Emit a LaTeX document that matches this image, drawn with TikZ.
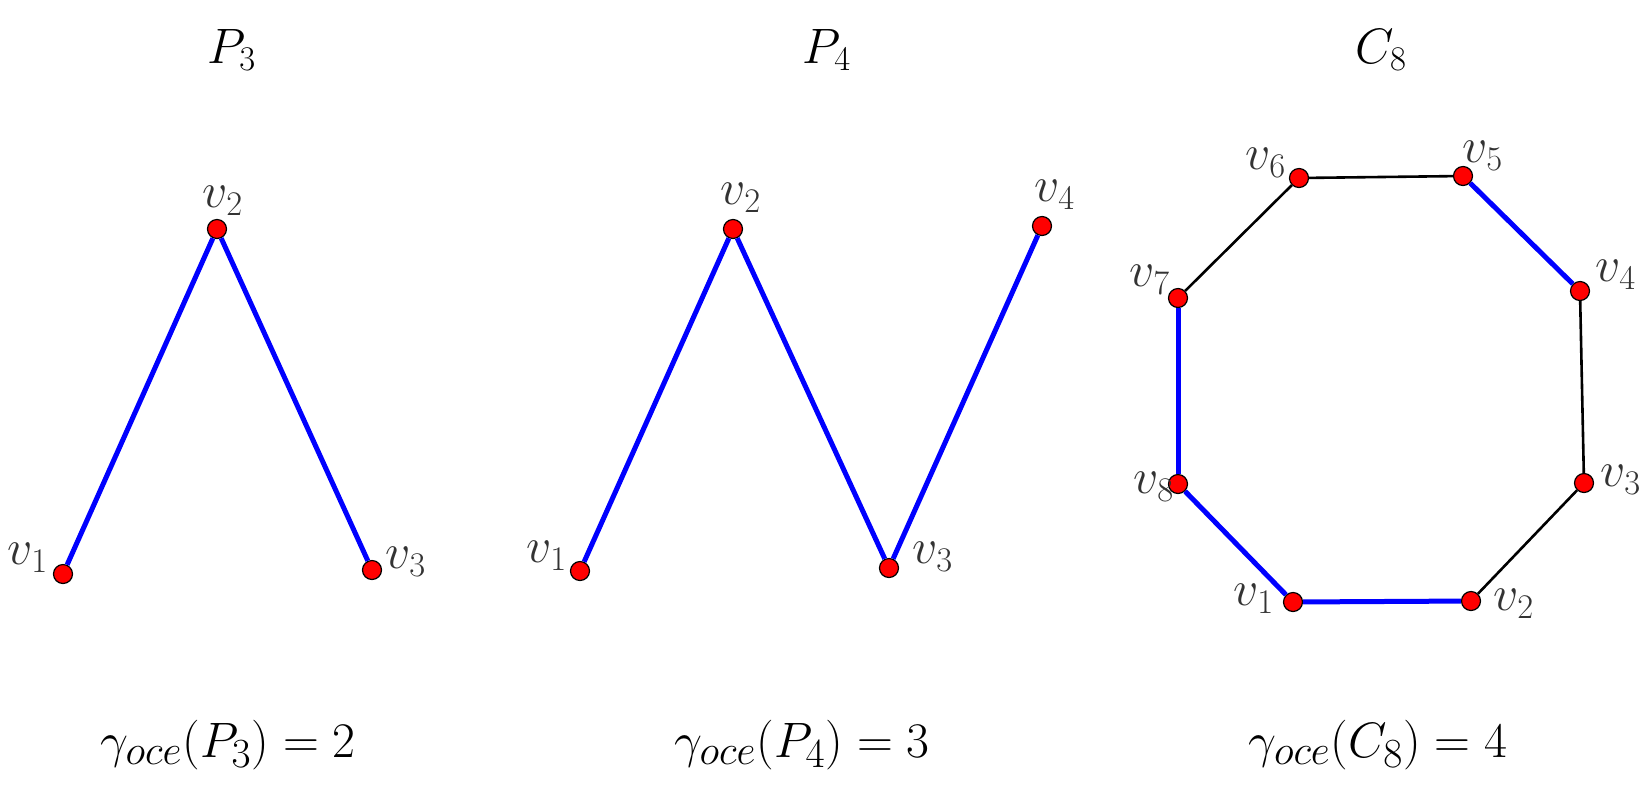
\documentclass[tikz,border=0pt]{standalone}
\usepackage{amsmath}

\begin{document}
\begin{tikzpicture}[x=0.5pt, y=-0.5pt]
\tikzstyle{vertex} = [circle, draw=black, fill=red, line width=0.6pt, inner sep=0pt, minimum size=9.5pt]
\tikzstyle{blueedge} = [draw=blue, line width=2.5pt]
\tikzstyle{blackedge} = [draw=black, line width=1.3pt]
\tikzstyle{lbl} = [text=black!80, font=\fontsize{24}{28}\selectfont, inner sep=0pt]
\tikzstyle{title} = [font=\fontsize{24}{28}\selectfont, inner sep=0pt]
\tikzstyle{result} = [font=\fontsize{28}{32}\selectfont, inner sep=0pt]

\useasboundingbox (0,0) rectangle (1651,789);

% P_3
\node (TitleP3) [title] at (232,50) {$P_3$};
\node (PthreeA) [vertex] at (63,574) {};
\node (PthreeB) [vertex] at (217,229) {};
\node (PthreeC) [vertex] at (372,570) {};
\node (LabelPthreeA) [lbl] at (28,558) {$v_1$};
\node (LabelPthreeB) [lbl] at (223,201) {$v_2$};
\node (LabelPthreeC) [lbl] at (406,562) {$v_3$};
\node (ResultP3) [result] at (228,745) {$\gamma_{oce}(P_3) = 2$};

% P_4
\node (TitleP4) [title] at (827,50) {$P_4$};
\node (PfourA) [vertex] at (580,571) {};
\node (PfourB) [vertex] at (733,229) {};
\node (PfourC) [vertex] at (889,568) {};
\node (PfourD) [vertex] at (1042,226) {};
\node (LabelPfourA) [lbl] at (547,556) {$v_1$};
\node (LabelPfourB) [lbl] at (741,198) {$v_2$};
\node (LabelPfourC) [lbl] at (933,557) {$v_3$};
\node (LabelPfourD) [lbl] at (1055,195) {$v_4$};
\node (ResultP4) [result] at (802,745) {$\gamma_{oce}(P_4) = 3$};

% C_8
\node (TitleC8) [title] at (1381,50) {$C_8$};
\node (CeightA) [vertex] at (1293,602) {};
\node (CeightB) [vertex] at (1471,601) {};
\node (CeightC) [vertex] at (1584,483) {};
\node (CeightD) [vertex] at (1580,291) {};
\node (CeightE) [vertex] at (1463,176) {};
\node (CeightF) [vertex] at (1299,178) {};
\node (CeightG) [vertex] at (1178,298) {};
\node (CeightH) [vertex] at (1178,484) {};
\node (LabelCeightA) [lbl] at (1254,599) {$v_1$};
\node (LabelCeightB) [lbl] at (1514,604) {$v_2$};
\node (LabelCeightC) [lbl] at (1621,480) {$v_3$};
\node (LabelCeightD) [lbl] at (1616,275) {$v_4$};
\node (LabelCeightE) [lbl] at (1483,156) {$v_5$};
\node (LabelCeightF) [lbl] at (1266,163) {$v_6$};
\node (LabelCeightG) [lbl] at (1150,280) {$v_7$};
\node (LabelCeightH) [lbl] at (1154,487) {$v_8$};
\node (ResultC8) [result] at (1378,745) {$\gamma_{oce}(C_8) = 4$};

\draw [blueedge] (PthreeA) -- (PthreeB);
\draw [blueedge] (PthreeB) -- (PthreeC);

\draw [blueedge] (PfourA) -- (PfourB);
\draw [blueedge] (PfourB) -- (PfourC);
\draw [blueedge] (PfourC) -- (PfourD);

\draw [blueedge] (CeightA) -- (CeightB);
\draw [blackedge] (CeightB) -- (CeightC);
\draw [blackedge] (CeightC) -- (CeightD);
\draw [blueedge] (CeightD) -- (CeightE);
\draw [blackedge] (CeightE) -- (CeightF);
\draw [blackedge] (CeightF) -- (CeightG);
\draw [blueedge] (CeightG) -- (CeightH);
\draw [blueedge] (CeightH) -- (CeightA);

\end{tikzpicture}
\end{document}
